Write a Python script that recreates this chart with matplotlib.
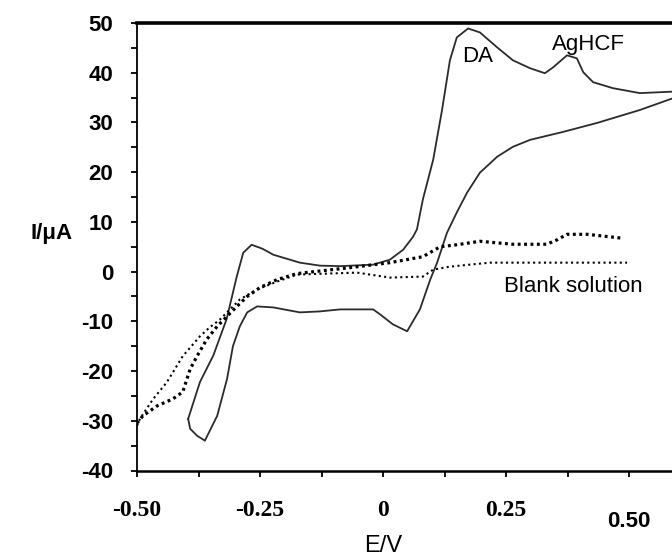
import matplotlib
matplotlib.use("Agg")
import matplotlib.pyplot as plt
import matplotlib.transforms as mtransforms
from matplotlib.ticker import MultipleLocator, FixedLocator

plt.rcParams["axes.unicode_minus"] = False

# ---- data ----
# DA cyclic voltammogram: forward (upper) branch, left -> right
E_fwd = [-0.396, -0.372, -0.345, -0.318, -0.297, -0.284, -0.267, -0.245, -0.223,
         -0.169, -0.128, -0.087, -0.020, 0.014, 0.041, 0.061, 0.069, 0.081, 0.102,
         0.120, 0.136, 0.150, 0.173, 0.197, 0.232, 0.264, 0.299, 0.329, 0.346,
         0.374, 0.394, 0.407, 0.427, 0.467, 0.522, 0.590]
I_fwd = [-29.6, -22.2, -16.9, -9.6, -0.9, 3.8, 5.4, 4.6, 3.4,
         1.8, 1.2, 1.1, 1.4, 2.4, 4.4, 7.0, 8.5, 14.5, 22.5,
         32.5, 42.5, 47.1, 48.9, 48.1, 45.1, 42.5, 40.9, 39.9, 41.1,
         43.5, 42.9, 40.1, 38.1, 36.9, 35.9, 36.2]
# reverse (lower) branch, right -> left
E_rev = [0.590, 0.522, 0.435, 0.366, 0.299, 0.264, 0.232, 0.197, 0.171, 0.150,
         0.130, 0.120, 0.110, 0.096, 0.075, 0.049, 0.020, -0.006, -0.020, -0.087,
         -0.128, -0.169, -0.223, -0.256, -0.276, -0.291, -0.305, -0.317, -0.337,
         -0.362, -0.378, -0.392, -0.396]
I_rev = [34.9, 32.5, 29.9, 28.1, 26.5, 25.1, 23.1, 19.9, 15.9, 11.9,
         7.8, 4.8, 1.8, -1.6, -7.6, -12.0, -10.6, -8.6, -7.6, -7.6,
         -8.0, -8.2, -7.2, -7.0, -8.2, -11.0, -15.0, -21.6, -29.0,
         -34.0, -33.0, -31.6, -29.6]

# AgHCF electrode (heavier dotted trace)
E_mod = [-0.500, -0.488, -0.459, -0.427, -0.407, -0.392, -0.378, -0.358, -0.337,
         -0.317, -0.297, -0.276, -0.250, -0.215, -0.175, -0.067, 0.014, 0.081,
         0.116, 0.150, 0.197, 0.264, 0.333, 0.354, 0.374, 0.415, 0.488]
I_mod = [-30.5, -29.0, -27.0, -25.6, -24.2, -19.6, -17.0, -13.6, -11.0,
         -9.0, -7.0, -5.0, -3.2, -1.6, -0.4, 0.8, 1.8, 3.0,
         5.0, 5.4, 6.1, 5.5, 5.5, 6.4, 7.5, 7.5, 6.7]

# Blank solution (fine dotted trace)
E_blank = [-0.500, -0.494, -0.467, -0.439, -0.407, -0.372, -0.352, -0.331, -0.311,
           -0.291, -0.256, -0.215, -0.175, -0.053, 0.014, 0.081, 0.102, 0.136,
           0.217, 0.333, 0.496]
I_blank = [-31.0, -29.6, -25.6, -22.2, -17.0, -13.0, -11.2, -9.6, -7.6,
           -5.6, -3.6, -2.0, -0.6, -0.2, -1.2, -1.0, 0.4, 1.0,
           1.8, 1.8, 1.8]

x_ticks = [-0.50, -0.25, 0.0, 0.25, 0.50]
x_ticklabels = ["-0.50", "-0.25", "0", "0.25", "0.50"]
y_ticks = [-40, -30, -20, -10, 0, 10, 20, 30, 40, 50]

# ---- figure ----
fig = plt.figure(figsize=(6.72, 5.59), dpi=100)
ax = fig.add_axes([137 / 672, 1 - 470.5 / 559, 1 - 137 / 672, 447.5 / 559])

ax.plot(E_fwd + E_rev, I_fwd + I_rev, color="#2b2b2b", lw=1.3,
        solid_joinstyle="round", solid_capstyle="round")
ax.plot(E_mod, I_mod, color="black", lw=2.3, ls=(0, (0.9, 1.1)))
ax.plot(E_blank, I_blank, color="black", lw=1.5, ls=(0, (1, 1.6)))

ax.set_xlim(-0.5, -0.5 + 535 / 492)
ax.set_ylim(-40, 50)

ax.xaxis.set_major_locator(FixedLocator(x_ticks))
ax.set_xticklabels(x_ticklabels)
ax.xaxis.set_minor_locator(MultipleLocator(0.125))
ax.set_yticks(y_ticks)
ax.yaxis.set_minor_locator(MultipleLocator(5))

ax.tick_params(axis="both", which="both", direction="out", length=4, width=1.3, colors="black")
ax.tick_params(axis="x", which="major", pad=17)
ax.tick_params(axis="y", which="major", pad=13)
ax.tick_params(top=False, right=False, which="both")

for lab in ax.get_yticklabels():
    lab.set_fontfamily("Liberation Sans")
    lab.set_fontweight("bold")
    lab.set_fontsize(16)
for lab in ax.get_xticklabels():
    lab.set_fontfamily("Liberation Serif")
    lab.set_fontweight("bold")
    lab.set_fontsize(17)
last = ax.get_xticklabels()[-1]
last.set_fontfamily("Liberation Sans")
last.set_fontsize(16)
last.set_transform(last.get_transform() + mtransforms.ScaledTranslation(0, -8 / 72, fig.dpi_scale_trans))

ax.spines["right"].set_visible(False)
ax.spines["top"].set_linewidth(2.6)
ax.spines["left"].set_linewidth(1.3)
ax.spines["bottom"].set_linewidth(1.8)

ax.set_ylabel("I/μA", rotation=0, fontsize=16, fontfamily="Liberation Sans", fontweight="bold",
              ha="center", va="center")
ax.yaxis.set_label_coords(-0.159, 0.53)
ax.set_xlabel("E/V", fontsize=17, fontfamily="Liberation Sans", ha="center", va="center")
ax.xaxis.set_label_coords(0.46, -0.169)

ax.text(0.193, 43.3, "DA", fontsize=16, fontfamily="Liberation Sans", ha="center", va="center")
ax.text(0.417, 45.6, "AgHCF", fontsize=16, fontfamily="Liberation Sans", ha="center", va="center")
ax.text(0.386, -3.0, "Blank solution", fontsize=16, fontfamily="Liberation Sans", ha="center", va="center")

fig.savefig("out.png", dpi=100)
